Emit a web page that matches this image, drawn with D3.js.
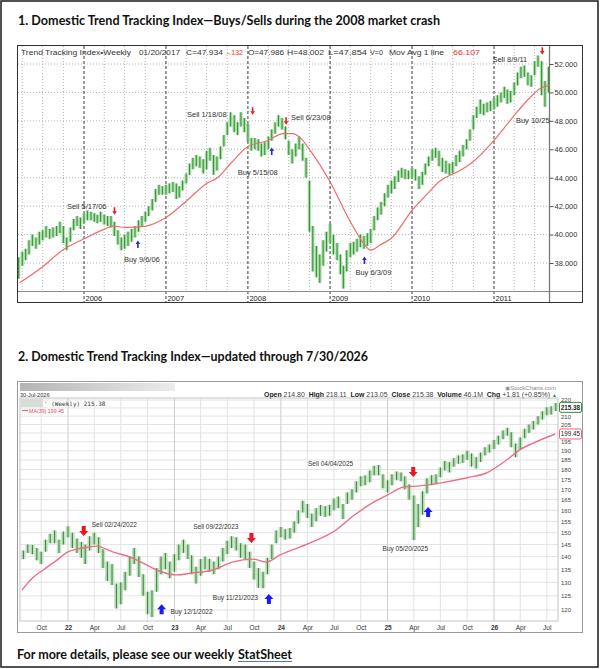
<!DOCTYPE html>
<html>
<head>
<meta charset="utf-8">
<script src="https://cdn.jsdelivr.net/npm/d3@7"></script>
<style>
body { margin: 0; background: #fff; }
svg { display: block; }
</style>
</head>
<body>
<script>
// ---- chart 1: half-month bars, Mar 16 2005 .. Sep 1 2011 (low / high)
var topLow = [
  36.9,37.8,38.2,38.6,39.2,39.0,39.3,39.6,39.8,39.7,39.8,39.9,40.1,39.4,38.9,39.5,40.3,40.6,40.4,
  40.8,41.0,41.0,40.9,40.8,40.9,40.7,40.6,40.5,39.9,39.3,38.9,39.0,39.2,39.5,39.8,40.2,40.6,40.9,41.3,41.7,42.3,42.8,42.8,
  42.8,42.9,43.0,42.5,42.6,43.1,43.6,44.2,44.6,44.8,44.7,44.3,44.6,45.2,44.2,44.5,45.3,46.2,47.0,47.6,47.2,47.0,47.6,47.2,
  46.5,45.9,46.0,45.9,45.5,45.6,46.0,46.6,47.1,47.6,47.4,46.7,45.6,45.0,45.5,46.0,45.2,44.0,40.2,37.4,37.0,36.6,37.8,38.8,
  39.4,38.6,38.2,37.2,36.2,37.4,38.4,38.6,38.8,39.1,39.0,39.2,39.4,40.3,41.0,41.4,42.0,42.6,42.9,43.2,43.7,44.0,43.9,43.9,
  44.0,43.8,43.2,43.5,44.2,44.8,45.2,45.4,44.8,44.4,44.3,44.2,44.3,44.8,45.1,45.5,46.0,46.6,47.4,48.2,48.5,48.4,48.6,48.7,
  48.8,49.0,49.3,49.6,49.2,49.3,49.8,50.5,51.0,51.1,50.5,50.4,51.2,51.8,49.8,49.0,50.0
];
var topHigh = [
  38.4,38.8,39.0,39.6,40.0,39.8,40.2,40.3,40.6,40.4,40.5,40.6,40.9,40.6,39.8,40.5,41.1,41.3,41.2,
  41.5,41.7,41.6,41.5,41.4,41.6,41.4,41.3,41.3,40.9,40.3,39.8,40.0,40.2,40.4,40.6,41.0,41.3,41.6,42.0,42.5,43.2,43.5,43.4,
  43.5,43.6,43.7,43.6,43.4,43.8,44.3,45.0,45.4,45.6,45.5,45.3,45.9,46.1,45.6,45.5,46.2,47.0,47.9,48.6,48.4,47.9,48.6,48.2,
  47.8,46.8,46.8,46.7,46.4,46.5,46.9,47.4,47.9,48.4,48.2,47.6,46.6,46.0,46.4,46.9,46.4,45.4,43.8,40.6,39.2,38.6,39.6,40.2,
  40.8,40.0,39.4,38.6,37.8,38.9,39.4,39.5,39.7,40.0,39.9,40.1,40.4,41.3,41.9,42.3,42.9,43.5,43.8,44.1,44.5,44.7,44.6,44.5,
  44.7,44.6,44.1,44.4,45.0,45.5,46.0,46.1,45.9,45.4,45.2,45.0,45.1,45.6,45.9,46.3,46.7,47.4,48.4,49.0,49.5,49.2,49.3,49.4,
  49.6,49.8,50.0,50.4,50.2,50.1,50.7,51.4,51.8,51.9,51.4,51.2,52.2,52.6,52.2,50.8,51.8
];
var topMaDates = ["2005-03-20","2005-06-28","2005-09-27","2006-01-01","2006-04-05","2006-05-08","2006-07-01",
  "2006-10-04","2007-01-01","2007-04-05","2007-07-01","2007-08-18","2007-10-16","2008-01-01","2008-03-28",
  "2008-06-06","2008-07-16","2008-08-22","2008-10-05","2009-01-01","2009-04-01","2009-05-30","2009-07-01",
  "2009-08-15","2009-09-28","2010-01-01","2010-03-12","2010-05-08","2010-07-20","2010-09-20","2011-01-05",
  "2011-03-28","2011-06-02","2011-07-27","2011-09-06"];
var topMa = [36.6,37.7,38.9,39.7,40.4,40.6,40.5,40.6,41.2,42.4,43.6,44.0,45.0,46.2,46.6,47.1,47.1,46.8,45.9,
  43.7,40.9,39.4,38.9,39.3,39.7,41.7,42.9,43.8,44.4,45.0,46.7,48.3,49.5,50.3,50.5];
var topYTicks = [38, 40, 42, 44, 46, 48, 50, 52];
var topYears = [2006, 2007, 2008, 2009, 2010, 2011];
// label, arrow date, arrow value, kind
var topSignals = [
  ["Sell 5/17/06", "2006-05-17", 41.65, "sell"],
  ["Buy 9/6/06", "2006-08-29", 39.32, "buy"],
  ["Sell 1/18/08", "2008-01-22", 48.69, "sell"],
  ["Buy 5/15/08", "2008-04-16", 45.87, "buy"],
  ["Sell 6/23/08", "2008-06-19", 47.99, "sell"],
  ["Buy 6/3/09", "2009-06-03", 38.2, "buy"],
  ["Sell 8/9/11", "2011-08-04", 52.92, "sell"],
  ["Buy 10/25", "2011-09-06", 48.06, "none"]
];
var topHeader = [
  ["Trend Tracking Index\u2022Weekly", 21, 131, "#333"],
  ["01/20/2017", 139, 180, "#333"],
  ["C=47.934", 186, 223, "#333"],
  ["-.132", 227, 243, "#e8322e"],
  ["O=47.986", 248, 284, "#333"],
  ["H=48.002", 287, 324, "#333"],
  ["L=47.854", 328, 367, "#333"],
  ["V=0", 370, 383, "#333"],
  ["Mov Avg 1 line", 389, 444, "#333"],
  ["66.107", 453, 480, "#e8322e"]
];

// ---- chart 2: half-month bars, Aug 1 2021 .. Aug 1 2026 (low / high)
var botLow = [
  139.0,141.5,141.0,138.5,137.0,142.0,145.5,145.5,141.5,145.0,
  148.0,143.5,141.5,139.5,137.0,142.5,145.0,141.5,135.5,130.5,129.0,120.5,122.0,127.0,132.5,137.0,132.0,125.0,118.5,117.6,126.5,133.0,135.0,131.5,
  134.0,138.5,141.5,139.0,133.0,129.5,132.5,135.0,134.0,133.0,135.0,138.0,141.0,143.5,142.5,139.5,139.0,135.5,131.0,128.0,127.8,133.0,139.0,145.5,
  148.0,147.0,147.5,150.0,154.0,159.0,156.5,152.5,155.0,157.5,157.0,157.5,160.0,161.0,156.0,163.0,165.0,168.5,171.5,172.0,173.5,177.0,177.0,170.5,
  168.5,172.0,174.5,174.0,170.0,165.0,146.9,152.5,158.0,168.0,172.0,172.5,176.0,179.5,178.5,181.5,183.0,183.5,185.0,181.5,180.5,184.0,187.5,189.0,
  191.0,193.5,196.5,198.5,192.0,186.5,190.5,197.0,200.0,202.0,205.0,208.0,210.5,211.0,213.05
];
var botHigh = [
  142.5,145.0,144.8,143.5,142.0,147.0,149.5,151.0,147.0,150.5,
  152.8,150.0,147.5,146.0,145.0,148.5,150.0,148.0,143.0,138.0,137.0,129.5,130.0,134.0,140.0,143.5,140.0,133.0,126.5,127.0,135.5,140.0,141.5,138.0,
  141.0,145.0,147.0,145.0,140.5,136.0,139.0,140.0,139.0,138.0,140.0,143.5,146.5,148.5,148.0,145.5,145.0,142.0,138.0,135.5,134.0,139.5,145.0,151.0,
  152.5,151.5,152.0,155.0,160.0,164.5,163.0,158.5,161.0,162.5,162.0,162.5,165.5,166.5,163.0,168.5,170.0,174.0,176.5,177.0,179.5,182.0,182.4,177.5,
  174.5,177.5,179.0,178.5,176.5,172.5,167.0,163.0,169.0,175.5,177.0,177.5,181.0,184.5,184.0,186.0,187.5,188.0,190.0,188.5,186.5,189.0,192.0,193.5,
  196.0,198.5,201.5,203.0,200.5,194.0,197.5,202.5,205.0,207.0,210.0,213.0,215.5,216.0,218.11
];
var botMaDates = ["2021-07-27","2021-09-02","2021-10-08","2021-11-24","2022-01-01","2022-02-21","2022-04-09",
  "2022-06-03","2022-08-11","2022-09-27","2022-11-10","2023-01-08","2023-03-03","2023-05-12","2023-07-19",
  "2023-09-27","2023-11-13","2023-12-28","2024-03-06","2024-05-04","2024-06-29","2024-09-06","2024-11-14",
  "2025-01-01","2025-02-24","2025-04-23","2025-06-28","2025-10-01","2025-12-06","2026-02-13","2026-03-29",
  "2026-05-16","2026-07-30"];
var botMa = [127.1,131.7,134.7,138.6,141.9,143.5,144.3,141.9,139.4,136.7,134.3,132.8,133.5,134.7,137.8,
  139.0,137.8,140.6,143.9,146.9,150.4,157.5,163.8,167.3,171.1,171.7,173.1,175.8,178.2,185.0,190.4,194.3,199.45];
var botYTicks = [120,125,130,135,140,145,150,155,160,165,170,175,180,185,190,195,205,210,220];
var lastClose = 215.38, lastMa = 199.45;
var botSignals = [
  ["Sell 02/24/2022", "2022-02-24", 150.7, "sell"],
  ["Buy 12/1/2022", "2022-11-18", 120.3, "buy"],
  ["Sell 09/22/2023", "2023-09-22", 147.7, "sell"],
  ["Buy 11/21/2023", "2023-11-21", 123.9, "buy"],
  ["Sell 04/04/2025", "2025-03-30", 178.7, "sell"],
  ["Buy 05/20/2025", "2025-05-20", 159.2, "buy"]
];
var botHeader = [["Open ", 1], ["214.80  ", 0], ["High ", 1], ["218.11  ", 0], ["Low ", 1], ["213.05  ", 0],
  ["Close ", 1], ["215.38  ", 0], ["Volume ", 1], ["46.1M  ", 0], ["Chg ", 1], ["+1.81 (+0.85%)", 0]];

// text offsets of the notes from their arrows (dx, dy, anchor)
var topNoteLayout = [[-8,-5,"end"],[-14,15,"start"],[-26,3,"end"],[-34,21,"start"],[5,-4,"start"],[-9,12,"start"],[-15,8,"end"],[0,0,"end"]];
var botNoteLayout = [[8,-6,"start"],[9,3,"start"],[-13,-11,"end"],[-11,-1,"end"],[-60,-8,"end"],[0,37,"end"]];

var width = 600, height = 669;
var F = "'Liberation Sans', Arial, Helvetica, sans-serif";
var parse = d3.timeParse("%Y-%m-%d");

function halfMonths(y, m, d, n) {
  var out = [], k = d === 16 ? 1 : 0;
  for (var i = 0; i < n; i++, k++) out.push(new Date(y, m + Math.floor(k / 2), k % 2 ? 16 : 1));
  return out;
}
var topDates = halfMonths(2005, 2, 16, topLow.length);
var botDates = halfMonths(2021, 7, 1, botLow.length);

function arrowPath(cx, cy, h, shaftW, headW, headH, down) {
  var s = down ? 1 : -1;
  var top = cy - s * h / 2, tip = cy + s * h / 2, neck = tip - s * headH;
  return "M" + (cx - shaftW / 2) + "," + top + "L" + (cx + shaftW / 2) + "," + top +
    "L" + (cx + shaftW / 2) + "," + neck + "L" + (cx + headW / 2) + "," + neck +
    "L" + cx + "," + tip + "L" + (cx - headW / 2) + "," + neck +
    "L" + (cx - shaftW / 2) + "," + neck + "Z";
}

var svg = d3.select("body").append("svg")
  .attr("width", width)
  .attr("height", height);

var defs = svg.append("defs");
defs.append("clipPath").attr("id", "clipTop").append("rect")
  .attr("x", 18).attr("y", 45).attr("width", 531).attr("height", 246);
defs.append("clipPath").attr("id", "clipBot").append("rect")
  .attr("x", 20).attr("y", 398).attr("width", 538).attr("height", 223);
var grad = defs.append("linearGradient").attr("id", "hdrGrad");
grad.append("stop").attr("offset", "0%").attr("stop-color", "#b4b4b4");
grad.append("stop").attr("offset", "100%").attr("stop-color", "#ececec");

svg.append("rect").attr("width", width).attr("height", height).attr("fill", "#fff");
svg.append("rect").attr("x", 1).attr("y", 1).attr("width", 597).attr("height", 666)
  .attr("fill", "none").attr("stroke", "#1a1a1a").attr("stroke-width", 1.5);

// titles
function title(txt, x, y, len) {
  return svg.append("text").attr("x", x).attr("y", y)
    .attr("textLength", len).attr("lengthAdjust", "spacingAndGlyphs")
    .style("font-family", "Lato, 'Open Sans', sans-serif").style("font-weight", 700)
    .style("font-size", "13px").attr("fill", "#111").text(txt);
}
title("1. Domestic Trend Tracking Index\u2014Buys/Sells during the 2008 market crash", 18, 25, 422);
title("2. Domestic Trend Tracking Index\u2014updated through 7/30/2026", 18, 361, 350);

// =================== chart 1 ===================
var xTop = d3.scaleTime().domain([new Date(2006, 0, 1), new Date(2011, 0, 1)]).range([84, 494]);
var yTop = d3.scaleLinear().domain([38, 52]).range([263, 64]);

svg.append("rect").attr("x", 17.5).attr("y", 45.5).attr("width", 565).attr("height", 257)
  .attr("fill", "#fff").attr("stroke", "#333").attr("stroke-width", 1);

var quartersTop = d3.timeMonth.every(3).range(new Date(2005, 3, 1), new Date(2011, 9, 1));
svg.append("g").selectAll("line").data(quartersTop.filter(function(d) { return d.getMonth() !== 0; }))
  .enter().append("line")
  .attr("x1", function(d) { return xTop(d); }).attr("x2", function(d) { return xTop(d); })
  .attr("y1", 46).attr("y2", 291)
  .attr("stroke", "#a0a0a0").attr("stroke-width", 0.8).attr("stroke-dasharray", "1,2");
svg.append("g").selectAll("line").data(topYTicks).enter().append("line")
  .attr("x1", 18).attr("x2", 549)
  .attr("y1", function(d) { return yTop(d); }).attr("y2", function(d) { return yTop(d); })
  .attr("stroke", "#a0a0a0").attr("stroke-width", 0.8).attr("stroke-dasharray", "1,2");
svg.append("g").selectAll("line").data(topYears).enter().append("line")
  .attr("x1", function(d) { return xTop(new Date(d, 0, 1)); })
  .attr("x2", function(d) { return xTop(new Date(d, 0, 1)); })
  .attr("y1", 46).attr("y2", 302)
  .attr("stroke", "#222").attr("stroke-width", 0.9).attr("stroke-dasharray", "3,2");
svg.append("g").selectAll("text").data(topYears).enter().append("text")
  .attr("x", function(d) { return xTop(new Date(d, 0, 1)) + 1.5; })
  .attr("y", 300.5)
  .style("font", "7.5px " + F).attr("fill", "#222")
  .text(function(d) { return d; });

svg.append("line").attr("x1", 18).attr("x2", 582).attr("y1", 291.5).attr("y2", 291.5)
  .attr("stroke", "#8a8a8a").attr("stroke-width", 1);
svg.append("line").attr("x1", 549.5).attr("x2", 549.5).attr("y1", 46).attr("y2", 302)
  .attr("stroke", "#7a7a7a").attr("stroke-width", 1.3);

var yAxisTop = svg.append("g").attr("transform", "translate(549.5,0)")
  .call(d3.axisRight(yTop).tickValues(topYTicks).tickSize(4).tickPadding(1).tickFormat(d3.format(".3f")));
yAxisTop.select(".domain").remove();
yAxisTop.selectAll("line").attr("stroke", "#555");
yAxisTop.selectAll("text").style("font", "7.5px " + F).attr("fill", "#333");

// bars + moving average
var gTop = svg.append("g").attr("clip-path", "url(#clipTop)");
gTop.selectAll(".halo").data(topDates).enter().append("line")
  .attr("x1", function(d) { return xTop(d); }).attr("x2", function(d) { return xTop(d); })
  .attr("y1", function(d, i) { return yTop(topLow[i]); })
  .attr("y2", function(d, i) { return yTop(topHigh[i]); })
  .attr("stroke", "#b3dcb3").attr("stroke-width", 3.5);
gTop.selectAll(".bar").data(topDates).enter().append("line")
  .attr("x1", function(d) { return xTop(d); }).attr("x2", function(d) { return xTop(d); })
  .attr("y1", function(d, i) { return yTop(topLow[i]); })
  .attr("y2", function(d, i) { return yTop(topHigh[i]); })
  .attr("stroke", "#2f962f").attr("stroke-width", 1.1);
gTop.append("path")
  .datum(topMaDates.map(function(d, i) { return [parse(d), topMa[i]]; }))
  .attr("fill", "none").attr("stroke", "#f06b6b").attr("stroke-width", 1.2)
  .attr("d", d3.line().curve(d3.curveMonotoneX)
    .x(function(d) { return xTop(d[0]); }).y(function(d) { return yTop(d[1]); }));

// header line of chart 1
svg.append("g").selectAll("text").data(topHeader).enter().append("text")
  .attr("x", function(d) { return d[1]; }).attr("y", 54.5)
  .attr("textLength", function(d) { return d[2] - d[1]; }).attr("lengthAdjust", "spacingAndGlyphs")
  .style("font", "7.5px " + F).attr("fill", function(d) { return d[3]; })
  .text(function(d) { return d[0]; });

// signals chart 1
topSignals.forEach(function(s, i) {
  var cx = xTop(parse(s[1])), cy = yTop(s[2]), lay = topNoteLayout[i];
  if (s[3] !== "none") {
    svg.append("path")
      .attr("d", arrowPath(cx, cy, 7.5, 1.6, 4.6, 3.6, s[3] === "sell"))
      .attr("fill", s[3] === "sell" ? "#e8201c" : "#1f2bd6");
  }
  svg.append("text").attr("x", cx + lay[0]).attr("y", cy + lay[1])
    .attr("dy", "0.35em").attr("text-anchor", lay[2])
    .style("font", "7.5px " + F).attr("fill", "#333").text(s[0]);
});

// =================== chart 2 ===================
var xBot = d3.scaleTime().domain([new Date(2022, 0, 1), new Date(2026, 0, 1)]).range([68, 494]);
var yBot = d3.scaleLog().domain([120, 220]).range([610, 400]);

svg.append("rect").attr("x", 17.5).attr("y", 381.5).attr("width", 565).attr("height", 251)
  .attr("fill", "#fff").attr("stroke", "#9a9a9a").attr("stroke-width", 1);
svg.append("rect").attr("x", 20).attr("y", 383).attr("width", 155).attr("height", 8)
  .attr("fill", "url(#hdrGrad)");
svg.append("text").attr("x", 556).attr("y", 389.5).attr("text-anchor", "end")
  .style("font", "6px " + F).attr("fill", "#888").text("\u25C9StockCharts.com");
svg.append("text").attr("x", 20).attr("y", 397).style("font", "5.6px " + F).attr("fill", "#333")
  .text("30-Jul-2026");
var hdr = svg.append("text").attr("x", 264).attr("y", 397)
  .attr("textLength", 286).attr("lengthAdjust", "spacingAndGlyphs")
  .style("font", "6.3px " + F).style("white-space", "pre").attr("fill", "#333");
botHeader.forEach(function(p) {
  hdr.append("tspan").style("font-weight", p[1] ? 700 : 400).attr("fill", p[1] ? "#222" : "#444").text(p[0]);
});
svg.append("text").attr("x", 557).attr("y", 397).attr("text-anchor", "end")
  .style("font", "5px " + F).attr("fill", "#2e8b2e").text("\u25B2");

// grid
var gridVals = d3.range(120, 221, 5);
svg.append("g").selectAll("line").data(gridVals).enter().append("line")
  .attr("x1", 20).attr("x2", 558)
  .attr("y1", function(d) { return yBot(d); }).attr("y2", function(d) { return yBot(d); })
  .attr("stroke", "#e3e3e3").attr("stroke-width", 1);
var quartersBot = d3.timeMonth.every(3).range(new Date(2021, 9, 1), new Date(2026, 7, 2));
svg.append("g").selectAll("line").data(quartersBot).enter().append("line")
  .attr("x1", function(d) { return xBot(d); }).attr("x2", function(d) { return xBot(d); })
  .attr("y1", 398).attr("y2", 621)
  .attr("stroke", function(d) { return d.getMonth() === 0 ? "#cdcdcd" : "#e3e3e3"; })
  .attr("stroke-width", 1);
svg.append("rect").attr("x", 20).attr("y", 398).attr("width", 538).attr("height", 223)
  .attr("fill", "none").attr("stroke", "#c4c4c4").attr("stroke-width", 1);

var xAxisBot = svg.append("g").attr("transform", "translate(0,621)")
  .call(d3.axisBottom(xBot).tickValues(quartersBot).tickSize(0).tickPadding(4)
    .tickFormat(function(d) { return d.getMonth() === 0 ? d3.timeFormat("%y")(d) : d3.timeFormat("%b")(d); }));
xAxisBot.select(".domain").remove();
xAxisBot.selectAll("text").style("font", "6.5px " + F).attr("fill", "#333")
  .style("font-weight", function(d) { return d.getMonth() === 0 ? 700 : 400; });

var yAxisBot = svg.append("g").attr("transform", "translate(560,0)")
  .call(d3.axisRight(yBot).tickValues(botYTicks).tickSize(0).tickPadding(1).tickFormat(d3.format("d")));
yAxisBot.select(".domain").remove();
yAxisBot.selectAll("text").style("font", "6px " + F).attr("fill", "#444");

// bars + moving average
var gBot = svg.append("g").attr("clip-path", "url(#clipBot)");
gBot.selectAll(".halo").data(botDates).enter().append("line")
  .attr("x1", function(d) { return xBot(d); }).attr("x2", function(d) { return xBot(d); })
  .attr("y1", function(d, i) { return yBot(botLow[i]); })
  .attr("y2", function(d, i) { return yBot(botHigh[i]); })
  .attr("stroke", "#c3e0c3").attr("stroke-width", 4.5);
gBot.selectAll(".bar").data(botDates).enter().append("line")
  .attr("x1", function(d) { return xBot(d); }).attr("x2", function(d) { return xBot(d); })
  .attr("y1", function(d, i) { return yBot(botLow[i]); })
  .attr("y2", function(d, i) { return yBot(botHigh[i]); })
  .attr("stroke", "#3a8a3a").attr("stroke-width", 1.1);
gBot.append("path")
  .datum(botMaDates.map(function(d, i) { return [parse(d), botMa[i]]; }))
  .attr("fill", "none").attr("stroke", "#ea7088").attr("stroke-width", 1.4)
  .attr("d", d3.line().curve(d3.curveMonotoneX)
    .x(function(d) { return xBot(d[0]); }).y(function(d) { return yBot(d[1]); }));

// legend
svg.append("rect").attr("x", 21).attr("y", 399).attr("width", 22).attr("height", 8).attr("fill", "#d9ddd9");
svg.append("text").attr("x", 44).attr("y", 405.5)
  .style("font", "6px 'DejaVu Sans Mono', monospace").style("white-space", "pre").attr("fill", "#333")
  .text("' (Weekly) " + lastClose.toFixed(2));
svg.append("line").attr("x1", 22).attr("x2", 28).attr("y1", 410.5).attr("y2", 410.5)
  .attr("stroke", "#e9657e").attr("stroke-width", 1.3);
svg.append("text").attr("x", 29).attr("y", 412.5)
  .style("font", "5.3px " + F).attr("fill", "#e0506c").text("MA(39) " + lastMa.toFixed(2));

// last value boxes
[[lastClose, "#3a8a3a"], [lastMa, "#e9657e"]].forEach(function(b) {
  var y = yBot(b[0]);
  svg.append("rect").attr("x", 559.5).attr("y", y - 5).attr("width", 22).attr("height", 10)
    .attr("rx", 1.5).attr("fill", "#fff").attr("stroke", b[1]).attr("stroke-width", 1);
  svg.append("text").attr("x", 570.5).attr("y", y).attr("dy", "0.35em").attr("text-anchor", "middle")
    .style("font", "6.3px " + F).style("font-weight", b[1] === "#3a8a3a" ? 700 : 400)
    .attr("fill", "#222").text(b[0].toFixed(2));
});

// signals chart 2
botSignals.forEach(function(s, i) {
  var cx = xBot(parse(s[1])), cy = yBot(s[2]), lay = botNoteLayout[i];
  svg.append("path")
    .attr("d", arrowPath(cx, cy, 10, 4, 9, 5, s[3] === "sell"))
    .attr("fill", s[3] === "sell" ? "#f0141e" : "#1a1aff");
  svg.append("text").attr("x", cx + lay[0]).attr("y", cy + lay[1])
    .attr("dy", "0.35em").attr("text-anchor", lay[2])
    .style("font", "6.5px " + F).attr("fill", "#333").text(s[0]);
});

// footer
function footText(txt, x, len) {
  return svg.append("text").attr("x", x).attr("y", 658.5)
    .attr("textLength", len).attr("lengthAdjust", "spacingAndGlyphs")
    .style("font-family", "Lato, 'Open Sans', sans-serif").style("font-weight", 700)
    .style("font-size", "13px").attr("fill", "#111").text(txt);
}
footText("For more details, please see our weekly", 17, 217);
footText("StatSheet", 238, 54);
svg.append("line").attr("x1", 238).attr("x2", 292).attr("y1", 661.5).attr("y2", 661.5)
  .attr("stroke", "#4a78d0").attr("stroke-width", 1);
</script>
</body>
</html>
